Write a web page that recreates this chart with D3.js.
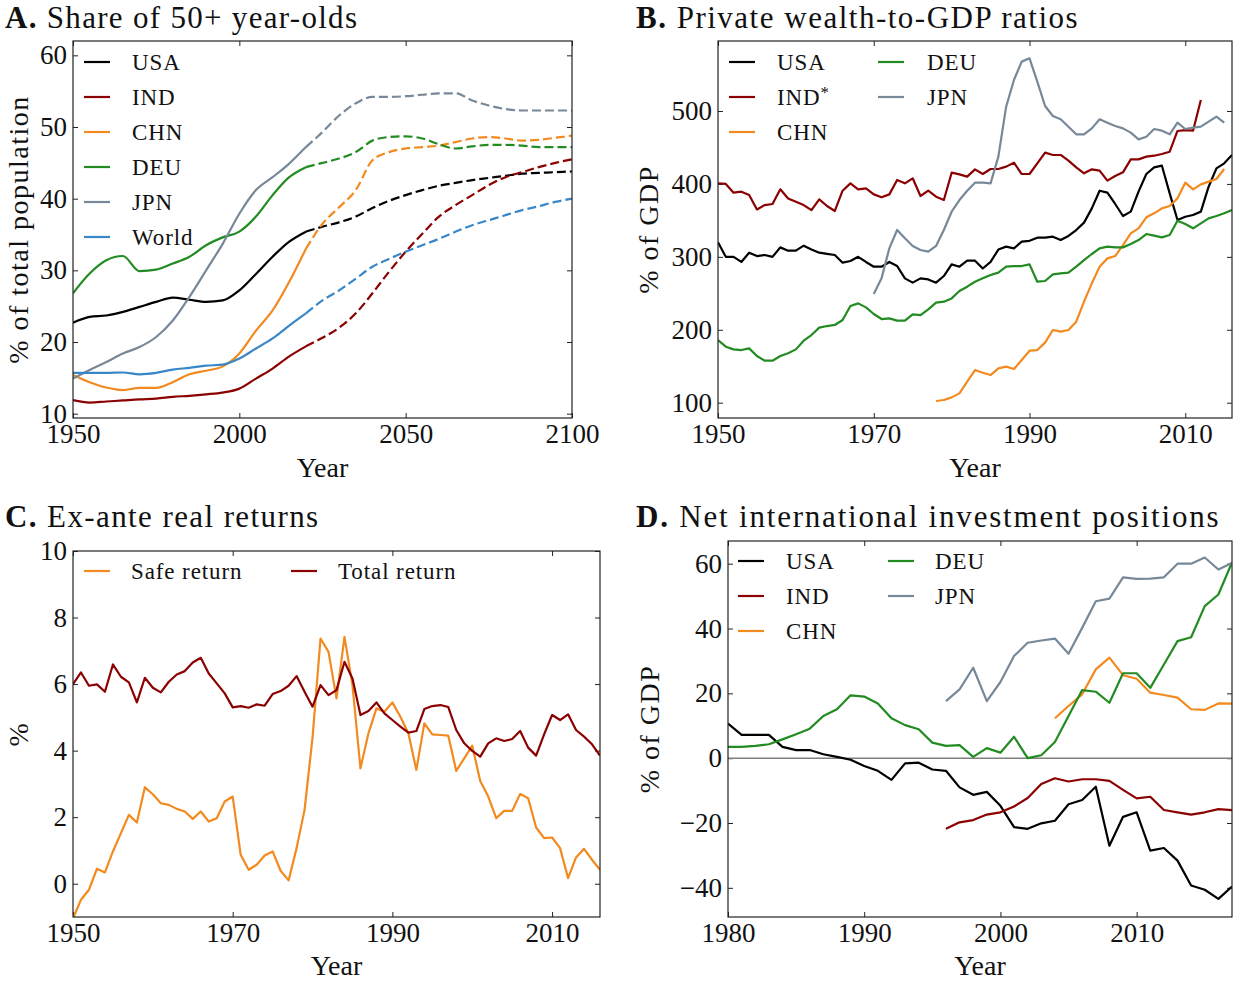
<!DOCTYPE html>
<html><head><meta charset="utf-8">
<script src="https://cdn.jsdelivr.net/npm/d3@7"></script>
<style>
body{margin:0;background:#fff;}
svg text{font-family:"Liberation Serif","Times New Roman",serif;fill:#111;}
</style></head><body>
<svg id="chart" width="1233" height="982"></svg>
<script>
// ---------- Panel A: share of 50+ year-olds (5-year steps, projections dashed after 2020) ----------
const popYears = [1950,1955,1960,1965,1970,1975,1980,1985,1990,1995,2000,2005,2010,2015,2020,2025,2030,2035,2040,2045,2050,2055,2060,2065,2070,2075,2080,2085,2090,2095,2100];
const projStart = 2020;
const popUSA   = [22.7,23.5,23.7,24.2,24.9,25.6,26.2,25.9,25.6,25.8,27.2,29.5,31.9,34.0,35.4,36.1,36.7,37.5,38.7,39.7,40.5,41.2,41.8,42.2,42.6,42.9,43.2,43.5,43.6,43.7,43.8];
const popIND   = [11.9,11.55,11.7,11.85,12.0,12.1,12.35,12.5,12.7,12.95,13.5,14.9,16.3,18.0,19.4,20.6,22.0,24.0,26.8,29.8,32.6,35.1,37.5,39.1,40.5,41.9,43.0,43.7,44.4,45.0,45.5];
const popCHN   = [15.4,14.4,13.65,13.3,13.6,13.6,14.4,15.5,16.0,16.6,18.4,21.6,24.4,28.4,33.0,36.5,38.8,41.2,45.35,46.5,47.0,47.2,47.4,47.9,48.4,48.6,48.4,48.1,48.2,48.5,48.8];
const popDEU   = [26.8,29.55,31.4,32.0,29.9,30.1,30.95,31.9,33.5,34.6,35.4,37.5,40.5,43.0,44.4,45.0,45.6,46.5,48.1,48.6,48.7,48.4,47.6,47.0,47.3,47.5,47.5,47.4,47.2,47.2,47.2];
const popJPN   = [14.9,16.1,17.2,18.4,19.3,20.7,23.0,26.3,30.0,33.7,37.9,41.2,43.0,44.9,47.2,49.3,51.6,53.3,54.2,54.2,54.3,54.5,54.7,54.7,53.7,53.0,52.5,52.3,52.3,52.3,52.3];
const popWorld = [15.7,15.7,15.7,15.75,15.5,15.7,16.15,16.4,16.7,16.85,17.7,19.1,20.5,22.3,24.0,25.8,27.2,28.85,30.5,31.6,32.6,33.5,34.4,35.4,36.3,37.0,37.7,38.4,38.95,39.55,40.0];

// ---------- Panel B: private wealth-to-GDP ratios ----------
const wealthUSAStart = 1950;
const wealthUSA = [320,300,300,293,305.7,301,302.5,300,313,308.5, 308.5,315.3,310,305.7,304,302.5,292,294.3,300,293, 286.5,286.5,293,287.4,270.5,264.6,270.5,269,264.6,273.7, 289.7,286.5,294.7,294.7,284,293,310,314,311.7,320.8, 322,326.3,326.3,327.7,323,328.6,336.8,346.9,366.5,390.7, 388,372.5,356,362,389.4,413.6,422.7,425,387,350.5, 355,357.4,362,396.2,421.4,428.2,439.7];
const wealthINDStart = 1950;
const wealthIND = [400.8,400,388,389.4,384.8,365,371,372.5,392.6,380, 375.6,371,364,378.9,369.7,362.9,390.7,400.8,392.6,394, 385.7,381.6,385.7,405.4,400.8,407.7,383.4,390.7,382.5,378, 415.4,413.1,410,420,413.6,420.5,420.5,423.7,429.1,413.6, 413.6,428.2,442.9,439.7,439.7,431.9,422.7,414.5,420,418.2, 404.5,410.9,415.9,433.7,433.7,437.4,438.7,441,444.2,472.6, 473.9,473,515];
const wealthCHNStart = 1978;
const wealthCHN = [102.3,103.7, 107.3,112.8,128.8,144.8,141.1,137.9,147,149.4,146.2,158.5, 171.3,172.2,182.3,199.7,197.4,199.7,211.1,238.5,263.7,286.5, 297.9,301.1,316.2,332.2,339.1,354.2,359.7,366.5,369.7,380.2, 401.7,392.6,399.4,403.1,406.7,420.5];
const wealthDEUStart = 1950;
const wealthDEU = [185.9,176.8,173.1,172.2,174.5,164,157.6,157.6,164,167.7, 173.1,185,192.8,202.9,205.1,206.6,213.4,232.6,236.2,230.7, 221.6,214.7,215.6,212.5,212.5,221.1,220.2,228,237.1,238.5, 243,253.1,259.1,265.9,270.5,275.1,278.3,286.5,287.4,287.4, 289.7,265.9,266.9,276,277.4,278.3,286.5,295.6,303.9,311.7, 314,313,313,317.6,323,331.3,329,326.7,329.9,349.6, 345,339.1,346,352.8,356,359.7,364.2];
const wealthJPNStart = 1970;
const wealthJPN = [249,270.5,311.7,336.8,325.4,314.9,309.4,307.1,314.9,336.8, 361.9,377.9,390.7,401.7,401.7,400.8,437.4,505.9,542.5,567.7, 572.2,540.2,506.9,493.1,488.6,478.5,468,468,476.2,488.6, 484,479.4,476.2,470.3,461.1,464.8,475.3,473,468,484, 475.3,477.1,478.5,485.4,492.2,484];

// ---------- Panel C: ex-ante real returns ----------
const returnStart = 1950;
const safeReturn  = [-1.05,-0.48,-0.18,0.45,0.34,0.97,1.52,2.07,1.84,2.9, 2.69,2.42,2.37,2.25,2.17,1.95,2.17,1.87,1.97,2.47, 2.62,0.87,0.42,0.57,0.85,0.97,0.39,0.1,1.07,2.22, 4.4,7.37,6.97,5.57,7.42,5.97,3.47,4.52,5.27,5.17, 5.45,5.02,4.52,3.42,4.82,4.49,4.47,4.45,3.39,3.77, 4.15,3.09,2.62,1.97,2.19,2.19,2.7,2.57,1.69,1.37, 1.39,1.07,0.17,0.79,1.05,0.72,0.42];
const totalReturn = [6.0,6.35,5.95,5.99,5.77,6.59,6.22,6.05,5.45,6.19, 5.89,5.75,6.07,6.29,6.39,6.65,6.79,6.32,6.02,5.72, 5.3,5.34,5.29,5.39,5.35,5.7,5.79,5.95,6.24,5.77, 5.32,5.97,5.67,5.82,6.67,6.17,5.07,5.19,5.45,5.12, 4.92,4.72,4.54,4.59,5.25,5.34,5.37,5.31,4.62,4.22, 3.99,3.82,4.22,4.37,4.29,4.35,4.59,4.09,3.85,4.49, 5.07,4.92,5.09,4.62,4.42,4.19,3.85];

// ---------- Panel D: net international investment positions ----------
const niipUSAStart = 1980;
const niipUSA = [10.7,7.2,7.2,7.2,3.5,2.5,2.5,1.2,0.4,-0.5, -2.4,-3.9,-6.7,-1.6,-1.4,-3.5,-3.9,-9.0,-11.3,-10.4, -14.7,-21.3,-21.8,-20.1,-19.3,-14.2,-12.9,-8.8,-27.0,-18.1, -16.7,-28.5,-27.7,-31.6,-39.3,-40.6,-43.4,-39.6];
const niipINDStart = 1996;
const niipIND = [-21.8,-19.8,-19.1,-17.4, -16.7,-14.9,-12.3,-8.0,-6.2,-7.2,-6.5,-6.5,-7.0,-9.8, -12.4,-11.9,-16.0,-16.7,-17.4,-16.7,-15.7,-16.0];
const niipCHNStart = 2004;
const niipCHN = [12.3,16.1,19.7,27.4,31.0,25.6, 24.5,20.2,19.5,18.7,15.1,14.9,16.9,16.8];
const niipDEUStart = 1980;
const niipDEU = [3.5,3.5,3.8,4.3,5.8,7.4,9.1,13.0,15.1,19.4, 19.0,16.9,12.3,10.2,8.9,4.8,3.8,4.0,0.4,3.1, 1.7,6.6,0.0,0.9,5.0,13.0,21.0,20.5,17.1,26.2, 26.2,21.7,28.9,36.1,37.3,46.9,50.5,60.4];
const niipJPNStart = 1996;
const niipJPN = [17.6,21.2,27.9,17.6, 23.5,31.5,35.6,36.3,36.9,32.2,40.2,48.4,49.2,55.8, 55.3,55.4,55.8,60.0,60.0,61.9,58.2,60.2];

// ---------- tick values ----------
const ticksA_x = [1950,2000,2050,2100], ticksA_y = [10,20,30,40,50,60];
const ticksB_x = [1950,1970,1990,2010], ticksB_y = [100,200,300,400,500];
const ticksC_x = [1950,1970,1990,2010], ticksC_y = [0,2,4,6,8,10];
const ticksD_x = [1980,1990,2000,2010], ticksD_y = [-40,-20,0,20,40,60];

// ---------- colours ----------
const C = {USA:"#000000", IND:"#8b0000", CHN:"#f28a1f", DEU:"#228b22", JPN:"#778899", World:"#3a87c8"};

const svg = d3.select("#chart");
const defs = svg.append("defs");
const FONT = '"Liberation Serif","Times New Roman",serif';
const TICK = 5;

function fromStart(start, vals){ return vals.map((v,i)=>({x:start+i, y:v})); }

function makePanel(o){
  const x = d3.scaleLinear().domain(o.xDomain).range([o.left,o.right]);
  const y = d3.scaleLinear().domain(o.yDomain).range([o.bottom,o.top]);
  const g = svg.append("g");
  const clipId = "clip-"+o.key;
  defs.append("clipPath").attr("id",clipId).append("rect")
    .attr("x",o.left).attr("y",o.top).attr("width",o.right-o.left).attr("height",o.bottom-o.top);
  const style = sel => {
    sel.select(".domain").remove();
    sel.attr("font-family",FONT).attr("font-size",27);
    sel.selectAll("line").attr("stroke","#222").attr("stroke-width",1);
    sel.selectAll("text").attr("fill","#111");
  };
  const fmt = d3.format("d");
  g.append("g").attr("transform",`translate(0,${o.bottom})`)
    .call(d3.axisBottom(x).tickValues(o.xTicks).tickFormat(fmt).tickSize(-TICK).tickPadding(6)).call(style);
  g.append("g").attr("transform",`translate(0,${o.top})`)
    .call(d3.axisTop(x).tickValues(o.xTicks).tickFormat("").tickSize(-TICK)).call(style);
  g.append("g").attr("transform",`translate(${o.left},0)`)
    .call(d3.axisLeft(y).tickValues(o.yTicks).tickFormat(fmt).tickSize(-TICK).tickPadding(6)).call(style);
  g.append("g").attr("transform",`translate(${o.right},0)`)
    .call(d3.axisRight(y).tickValues(o.yTicks).tickFormat("").tickSize(-TICK)).call(style);

  const plot = g.append("g").attr("clip-path",`url(#${clipId})`);
  if (o.zeroLine){
    plot.append("line").attr("x1",o.left).attr("x2",o.right).attr("y1",y(0)).attr("y2",y(0))
      .attr("stroke","#808080").attr("stroke-width",1.5);
  }
  const line = d3.line().defined(d=>d.y!=null).x(d=>x(d.x)).y(d=>y(d.y)).curve(o.curve||d3.curveLinear);
  o.series.forEach(s=>{
    plot.append("path").datum(s.points).attr("d",line)
      .attr("fill","none").attr("stroke",s.color).attr("stroke-width",2.2)
      .attr("stroke-linejoin","round").attr("stroke-dasharray",s.dash||null);
  });

  g.append("rect").attr("x",o.left).attr("y",o.top).attr("width",o.right-o.left).attr("height",o.bottom-o.top)
    .attr("fill","none").attr("stroke","#222").attr("stroke-width",1.2);

  // title
  const t = g.append("text").attr("x",o.titleX).attr("y",o.titleY).attr("font-size",31)
    .attr("letter-spacing",o.titleSpacing);
  t.append("tspan").attr("font-weight","bold").text(o.letter);
  t.append("tspan").text(" "+o.title);
  // axis labels
  g.append("text").attr("x",(o.left+o.right)/2).attr("y",o.xLabelY).attr("text-anchor","middle")
    .attr("font-size",28).text("Year");
  g.append("text").attr("transform",`translate(${o.yLabelX},${(o.top+o.bottom)/2}) rotate(-90)`)
    .attr("text-anchor","middle").attr("font-size",28).attr("letter-spacing",1.5).text(o.yLabel);
  // legend
  o.legend.forEach(l=>{
    g.append("line").attr("x1",l.x).attr("x2",l.x+26).attr("y1",l.y).attr("y2",l.y)
      .attr("stroke",l.color).attr("stroke-width",2.2);
    const tx = g.append("text").attr("x",l.tx).attr("y",l.y+8).attr("font-size",23)
      .attr("letter-spacing",0.9).text(l.label);
    if (l.star) tx.append("tspan").attr("font-size",17).attr("dy",-7).text("*");
  });
}

// ---------- Panel A ----------
function popSeries(vals, color){
  const pts = popYears.map((yr,i)=>({x:yr,y:vals[i]}));
  return [
    {points: pts.filter(p=>p.x<=projStart), color},
    {points: pts.filter(p=>p.x>=projStart), color, dash:"9,4"}
  ];
}
const legendRowsA = [["USA",popUSA],["IND",popIND],["CHN",popCHN],["DEU",popDEU],["JPN",popJPN],["World",popWorld]];
makePanel({
  key:"A", letter:"A.", title:"Share of 50+ year-olds", titleX:5, titleY:28, titleSpacing:1.3,
  left:73, right:572, top:41, bottom:418,
  xDomain:[1950,2100], yDomain:[9.4,62], xTicks:ticksA_x, yTicks:ticksA_y,
  xLabelY:477, yLabelX:28, yLabel:"% of total population",
  curve:d3.curveMonotoneX,
  series: legendRowsA.flatMap(([n,v])=>popSeries(v,C[n])),
  legend: legendRowsA.map(([n],i)=>({label:n,color:C[n],x:84,tx:132,y:62+35*i}))
});

// ---------- Panel B ----------
makePanel({
  key:"B", letter:"B.", title:"Private wealth-to-GDP ratios", titleX:636, titleY:28, titleSpacing:1.5,
  left:718, right:1232, top:41, bottom:418,
  xDomain:[1950,2016], yDomain:[79,596], xTicks:ticksB_x, yTicks:ticksB_y,
  xLabelY:477, yLabelX:658, yLabel:"% of GDP",
  series:[
    {points:fromStart(wealthUSAStart,wealthUSA),color:C.USA},
    {points:fromStart(wealthINDStart,wealthIND),color:C.IND},
    {points:fromStart(wealthCHNStart,wealthCHN),color:C.CHN},
    {points:fromStart(wealthDEUStart,wealthDEU),color:C.DEU},
    {points:fromStart(wealthJPNStart,wealthJPN),color:C.JPN}
  ],
  legend:[
    {label:"USA",color:C.USA,x:729,tx:777,y:62},
    {label:"IND",color:C.IND,x:729,tx:777,y:97,star:true},
    {label:"CHN",color:C.CHN,x:729,tx:777,y:132},
    {label:"DEU",color:C.DEU,x:878,tx:927,y:62},
    {label:"JPN",color:C.JPN,x:878,tx:927,y:97}
  ]
});

// ---------- Panel C ----------
makePanel({
  key:"C", letter:"C.", title:"Ex-ante real returns", titleX:5, titleY:527, titleSpacing:1.4,
  left:73, right:600, top:551, bottom:917,
  xDomain:[1950,2016], yDomain:[-1,10], xTicks:ticksC_x, yTicks:ticksC_y,
  xLabelY:975, yLabelX:28, yLabel:"%",
  series:[
    {points:fromStart(returnStart,safeReturn),color:C.CHN},
    {points:fromStart(returnStart,totalReturn),color:C.IND}
  ],
  legend:[
    {label:"Safe return",color:C.CHN,x:84,tx:131,y:571},
    {label:"Total return",color:C.IND,x:291,tx:338,y:571}
  ]
});

// ---------- Panel D ----------
makePanel({
  key:"D", letter:"D.", title:"Net international investment positions", titleX:636, titleY:527, titleSpacing:1.8,
  left:728, right:1232, top:541, bottom:917,
  xDomain:[1980,2017], yDomain:[-49,67], xTicks:ticksD_x, yTicks:ticksD_y,
  xLabelY:975, yLabelX:659, yLabel:"% of GDP", zeroLine:true,
  series:[
    {points:fromStart(niipUSAStart,niipUSA),color:C.USA},
    {points:fromStart(niipINDStart,niipIND),color:C.IND},
    {points:fromStart(niipCHNStart,niipCHN),color:C.CHN},
    {points:fromStart(niipDEUStart,niipDEU),color:C.DEU},
    {points:fromStart(niipJPNStart,niipJPN),color:C.JPN}
  ],
  legend:[
    {label:"USA",color:C.USA,x:738,tx:786,y:561},
    {label:"IND",color:C.IND,x:738,tx:786,y:596},
    {label:"CHN",color:C.CHN,x:738,tx:786,y:631},
    {label:"DEU",color:C.DEU,x:888,tx:935,y:561},
    {label:"JPN",color:C.JPN,x:888,tx:935,y:596}
  ]
});
</script></body></html>
